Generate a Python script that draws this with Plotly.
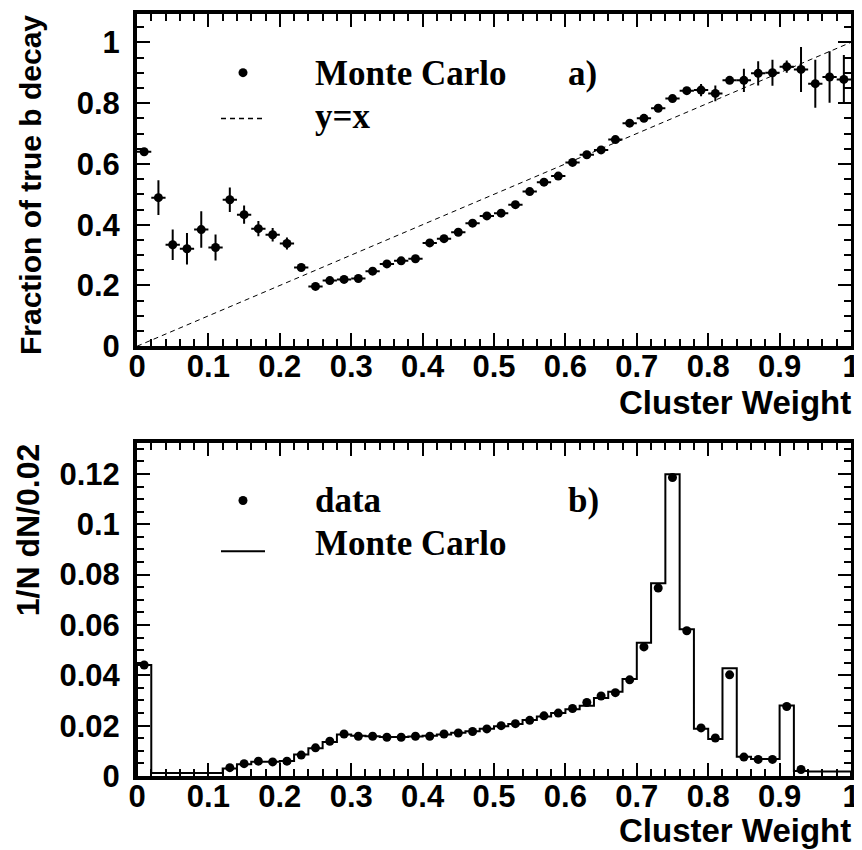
import plotly.graph_objects as go

# ---------------- data ----------------
bin_centers = [round(0.01 + 0.02 * i, 2) for i in range(50)]
bin_edges = [round(0.02 * i, 2) for i in range(51)]

# panel a) fraction of true b decay (Monte Carlo)
frac_b = [0.640, 0.489, 0.334, 0.321, 0.384, 0.325, 0.482, 0.433, 0.387, 0.367,
          0.338, 0.259, 0.197, 0.216, 0.220, 0.223, 0.247, 0.271, 0.281, 0.288,
          0.340, 0.354, 0.375, 0.405, 0.429, 0.438, 0.466, 0.509, 0.540, 0.560,
          0.605, 0.630, 0.646, 0.680, 0.734, 0.750, 0.783, 0.815, 0.841, 0.843,
          0.832, 0.875, 0.875, 0.898, 0.900, 0.920, 0.911, 0.864, 0.886, 0.878]
frac_b_err = [0.010, 0.057, 0.050, 0.052, 0.060, 0.043, 0.040, 0.030, 0.025, 0.022,
              0.020, 0.010, 0.008, 0.008, 0.007, 0.007, 0.007, 0.007, 0.007, 0.007,
              0.007, 0.007, 0.007, 0.007, 0.007, 0.008, 0.008, 0.008, 0.008, 0.008,
              0.008, 0.008, 0.008, 0.008, 0.008, 0.008, 0.008, 0.008, 0.010, 0.020,
              0.026, 0.012, 0.038, 0.040, 0.043, 0.020, 0.074, 0.079, 0.085, 0.080]
diag_x = [0.0, 1.0]
diag_y = [0.0, 1.0]

# panel b) 1/N dN/0.02
data_vals = [0.0441, None, None, None, None, None, 0.0033, 0.0049, 0.0059, 0.0056,
             0.0059, 0.0083, 0.0112, 0.0138, 0.0167, 0.0158, 0.0158, 0.0154, 0.0154, 0.0158,
             0.0158, 0.0167, 0.0171, 0.0177, 0.0187, 0.0200, 0.0208, 0.0221, 0.0239, 0.0250,
             0.0268, 0.0292, 0.0318, 0.0331, 0.0382, 0.0513, 0.0747, 0.1186, 0.0577, 0.0191,
             0.0151, 0.0402, 0.0075, 0.0066, 0.0066, 0.0276, 0.0026, None, None, None]
mc_vals = [0.0441, 0.0012, 0.0012, 0.0012, 0.0012, 0.0012, 0.0030, 0.0047, 0.0057, 0.0057,
           0.0060, 0.0085, 0.0110, 0.0135, 0.0165, 0.0160, 0.0158, 0.0155, 0.0155, 0.0157,
           0.0160, 0.0165, 0.0172, 0.0178, 0.0188, 0.0198, 0.0207, 0.0222, 0.0236, 0.0250,
           0.0265, 0.0279, 0.0310, 0.0335, 0.0385, 0.0529, 0.0766, 0.1199, 0.0583, 0.0188,
           0.0147, 0.0428, 0.0076, 0.0068, 0.0068, 0.0280, 0.0020, 0.0018, 0.0018, 0.0018]

x_tick_vals = [0, 0.1, 0.2, 0.3, 0.4, 0.5, 0.6, 0.7, 0.8, 0.9, 1]
x_tick_text = ["0", "0.1", "0.2", "0.3", "0.4", "0.5", "0.6", "0.7", "0.8", "0.9", "1"]
ya_tick_vals = [0, 0.2, 0.4, 0.6, 0.8, 1]
ya_tick_text = ["0", "0.2", "0.4", "0.6", "0.8", "1"]
yb_tick_vals = [0, 0.02, 0.04, 0.06, 0.08, 0.1, 0.12]
yb_tick_text = ["0", "0.02", "0.04", "0.06", "0.08", "0.1", "0.12"]

# ---------------- geometry (page pixels; the page body has an 8px margin) ----------------
OFF = 8
W, H = 862 - OFF, 850 - OFF
L, R, T, B = 137, 851, 10, 776          # plot-area edges in page pixels
fig_margin = dict(l=L - OFF, r=W - (R - OFF), t=T - OFF, b=H - (B - OFF))


def px_x(p):
    return (p - L) / (R - L)


def px_y(q):
    return (B - q) / (B - T)


top_dom = [px_y(344), 1.0]
bot_dom = [0.0, px_y(441)]

fig = go.Figure()

# panel a
fig.add_trace(go.Scatter(
    x=diag_x, y=diag_y, mode="lines",
    line=dict(color="black", width=1, dash="5px,4px"),
    xaxis="x", yaxis="y", showlegend=False, hoverinfo="skip"))
fig.add_trace(go.Scatter(
    x=bin_centers, y=frac_b, mode="markers",
    marker=dict(color="black", size=9),
    error_y=dict(type="data", array=frac_b_err, color="black", thickness=2, width=0),
    error_x=dict(type="constant", value=0.01, color="black", thickness=2, width=0),
    xaxis="x", yaxis="y", showlegend=False))

# panel b: MC histogram as step line
step_x = [0.0] + bin_edges[:-1] + [1.0, 1.0]
step_y = [0.0] + mc_vals + [mc_vals[-1], 0.0]
fig.add_trace(go.Scatter(
    x=step_x, y=step_y, mode="lines", line_shape="hv",
    line=dict(color="black", width=2),
    xaxis="x2", yaxis="y2", showlegend=False))
fig.add_trace(go.Scatter(
    x=bin_centers, y=data_vals, mode="markers",
    marker=dict(color="black", size=9),
    xaxis="x2", yaxis="y2", showlegend=False))

tick_font = dict(family="Liberation Sans, Arial, sans-serif", size=31, color="black", weight="bold")
common = dict(showgrid=False, zeroline=False, showline=True, linecolor="black", linewidth=4,
              mirror="ticks", ticks="inside", ticklen=13, tickwidth=2, tickcolor="black",
              tickfont=tick_font)
minor_common = dict(ticks="inside", ticklen=7, tickwidth=2, tickcolor="black", tick0=0)

fig.update_layout(
    width=W, height=H,
    margin=fig_margin,
    paper_bgcolor="white", plot_bgcolor="white",
    showlegend=False,
    xaxis=dict(domain=[0, 1], anchor="y", range=[0, 1], tickmode="array",
               tickvals=x_tick_vals, ticktext=x_tick_text, ticklabelstandoff=-10,
               minor=dict(dtick=0.02, **minor_common), **common),
    yaxis=dict(domain=top_dom, anchor="x", range=[0, 1.0933], tickmode="array",
               tickvals=ya_tick_vals, ticktext=ya_tick_text, ticklabelstandoff=7,
               minor=dict(dtick=0.05, **minor_common), **common),
    xaxis2=dict(domain=[0, 1], anchor="y2", range=[0, 1], tickmode="array",
                tickvals=x_tick_vals, ticktext=x_tick_text, ticklabelstandoff=-10,
                minor=dict(dtick=0.02, **minor_common), **common),
    yaxis2=dict(domain=bot_dom, anchor="x2", range=[0, 0.1324], tickmode="array",
                tickvals=yb_tick_vals, ticktext=yb_tick_text, ticklabelstandoff=7,
                minor=dict(dtick=0.005, **minor_common), **common),
)

xtitle_font = dict(family="Liberation Sans, Arial, sans-serif", size=33, color="black", weight="bold")
ytitle_font_a = dict(family="Liberation Sans, Arial, sans-serif", size=30, color="black", weight="bold")
ytitle_font_b = dict(family="Liberation Sans, Arial, sans-serif", size=32, color="black", weight="bold")
leg_font = dict(family="Liberation Serif, Times New Roman, serif", size=35, color="black", weight="bold")

annotations = [
    # axis titles
    dict(text="Cluster Weight", x=px_x(853), y=px_y(401), xanchor="right", yanchor="middle",
         font=xtitle_font),
    dict(text="Cluster Weight", x=px_x(853), y=px_y(831), xanchor="right", yanchor="middle",
         font=xtitle_font),
    dict(text="Fraction of true b decay", x=px_x(30), y=px_y(9), xanchor="center", yanchor="top",
         textangle=-90, font=ytitle_font_a),
    dict(text="1/N dN/0.02", x=px_x(28), y=px_y(439), xanchor="center", yanchor="top",
         textangle=-90, font=ytitle_font_b),
    # legend texts
    dict(text="Monte Carlo", x=px_x(313), y=px_y(70), xanchor="left", yanchor="middle", font=leg_font),
    dict(text="a)", x=px_x(566), y=px_y(70), xanchor="left", yanchor="middle", font=leg_font),
    dict(text="y=x", x=px_x(313), y=px_y(113), xanchor="left", yanchor="middle", font=leg_font),
    dict(text="data", x=px_x(313), y=px_y(499), xanchor="left", yanchor="middle", font=leg_font),
    dict(text="b)", x=px_x(566), y=px_y(499), xanchor="left", yanchor="middle", font=leg_font),
    dict(text="Monte Carlo", x=px_x(313), y=px_y(542), xanchor="left", yanchor="middle", font=leg_font),
]
for a in annotations:
    a.update(xref="paper", yref="paper", showarrow=False)
fig.update_layout(annotations=annotations)

# legend swatches
shapes = [
    dict(type="circle", xref="paper", yref="paper", xsizemode="pixel", ysizemode="pixel",
         xanchor=px_x(243), yanchor=px_y(69), x0=-4.5, x1=4.5, y0=-4.5, y1=4.5,
         fillcolor="black", line=dict(color="black", width=0)),
    dict(type="line", xref="paper", yref="paper", x0=px_x(221), x1=px_x(265),
         y0=px_y(115), y1=px_y(115), line=dict(color="black", width=1.5, dash="5px,4px")),
    dict(type="circle", xref="paper", yref="paper", xsizemode="pixel", ysizemode="pixel",
         xanchor=px_x(243), yanchor=px_y(499), x0=-4.5, x1=4.5, y0=-4.5, y1=4.5,
         fillcolor="black", line=dict(color="black", width=0)),
    dict(type="line", xref="paper", yref="paper", x0=px_x(221), x1=px_x(265),
         y0=px_y(550), y1=px_y(550), line=dict(color="black", width=2)),
]
fig.update_layout(shapes=shapes)

fig.write_html("out.html")
